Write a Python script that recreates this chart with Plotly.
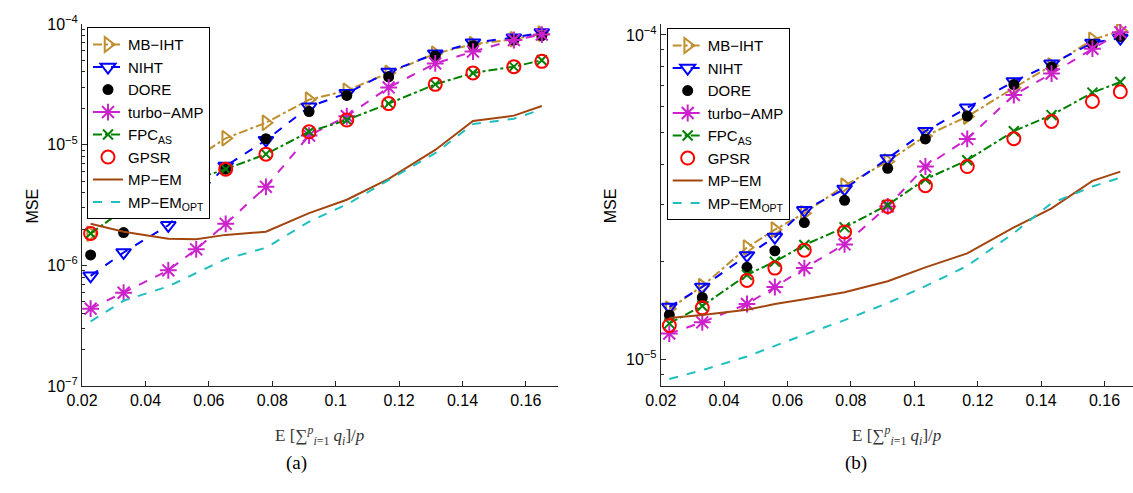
import plotly.graph_objects as go
import numpy as np

W, H = 1133, 493

x_vals = [0.0227, 0.0331, 0.0472, 0.0560, 0.0653, 0.0780, 0.0916, 0.1035, 0.1167, 0.1314, 0.1433, 0.1562, 0.165]

# Panel (a)
a_mbiht = [1.83e-6, 2.9e-6, 5.0e-6, 7.8e-6, 1.13e-5, 1.52e-5, 2.36e-5, 2.8e-5, 3.93e-5, 5.67e-5, 6.8e-5, 7.46e-5, 8.32e-5]
a_niht = [8.2e-7, 1.28e-6, 2.15e-6, 3.68e-6, 6.65e-6, 1.09e-5, 2.06e-5, 2.67e-5, 4.0e-5, 5.67e-5, 7.0e-5, 7.7e-5, 8.5e-5]
a_dore = [1.22e-6, 1.87e-6, 2.95e-6, 4.3e-6, 6.27e-6, 1.12e-5, 1.88e-5, 2.56e-5, 3.65e-5, 5.43e-5, 6.6e-5, 7.36e-5, 8.0e-5]
a_turbo = [4.38e-7, 5.94e-7, 9.1e-7, 1.36e-6, 2.21e-6, 4.48e-6, 1.19e-5, 1.72e-5, 2.98e-5, 4.71e-5, 5.9e-5, 7.36e-5, 8.17e-5]
a_fpc = [1.84e-6, 2.88e-6, 4.2e-6, 5.2e-6, 6.27e-6, 8.35e-6, 1.28e-5, 1.6e-5, 2.19e-5, 3.16e-5, 3.93e-5, 4.43e-5, 5.0e-5]
a_gpsr = [1.84e-6, 2.88e-6, 4.2e-6, 5.2e-6, 6.27e-6, 8.35e-6, 1.28e-5, 1.6e-5, 2.19e-5, 3.16e-5, 3.93e-5, 4.43e-5, 4.9e-5]
a_mpem = [2.21e-6, 1.9e-6, 1.66e-6, 1.65e-6, 1.79e-6, 1.9e-6, 2.71e-6, 3.5e-6, 5.2e-6, 9.04e-6, 1.57e-5, 1.74e-5, 2.09e-5]
a_mpopt = [3.43e-7, 5.1e-7, 6.7e-7, 8.6e-7, 1.13e-6, 1.4e-6, 2.3e-6, 3.2e-6, 5.06e-6, 8.5e-6, 1.48e-5, 1.64e-5, 1.96e-5]

# Panel (b)
b_mbiht = [1.43e-5, 1.68e-5, 2.21e-5, 2.51e-5, 2.82e-5, 3.43e-5, 4.07e-5, 4.88e-5, 5.6e-5, 6.87e-5, 8.05e-5, 9.67e-5, 1.03e-4]
b_niht = [1.45e-5, 1.67e-5, 2.09e-5, 2.38e-5, 2.88e-5, 3.35e-5, 4.16e-5, 5.05e-5, 5.96e-5, 7.19e-5, 8.15e-5, 9.45e-5, 9.78e-5]
b_dore = [1.37e-5, 1.55e-5, 1.92e-5, 2.16e-5, 2.64e-5, 3.09e-5, 3.88e-5, 4.78e-5, 5.62e-5, 7.03e-5, 7.96e-5, 9.34e-5, 9.9e-5]
b_turbo = [1.2e-5, 1.3e-5, 1.48e-5, 1.67e-5, 1.91e-5, 2.26e-5, 2.96e-5, 3.93e-5, 4.78e-5, 6.53e-5, 7.6e-5, 9.07e-5, 1.02e-4]
b_fpc = [1.29e-5, 1.46e-5, 1.82e-5, 2.0e-5, 2.25e-5, 2.55e-5, 2.99e-5, 3.59e-5, 4.11e-5, 5.05e-5, 5.66e-5, 6.64e-5, 7.16e-5]
b_gpsr = [1.27e-5, 1.44e-5, 1.75e-5, 1.91e-5, 2.17e-5, 2.47e-5, 2.96e-5, 3.43e-5, 3.93e-5, 4.79e-5, 5.41e-5, 6.24e-5, 6.68e-5]
b_mpem = [1.34e-5, 1.37e-5, 1.42e-5, 1.48e-5, 1.53e-5, 1.61e-5, 1.74e-5, 1.92e-5, 2.12e-5, 2.55e-5, 2.92e-5, 3.55e-5, 3.79e-5]
b_mpopt = [8.69e-6, 9.25e-6, 1.02e-5, 1.1e-5, 1.19e-5, 1.32e-5, 1.49e-5, 1.68e-5, 1.94e-5, 2.45e-5, 3.03e-5, 3.41e-5, 3.63e-5]

x_ticks = [0.02, 0.04, 0.06, 0.08, 0.10, 0.12, 0.14, 0.16]
x_ticktext = ["0.02", "0.04", "0.06", "0.08", "0.1", "0.12", "0.14", "0.16"]

names = ["MB\u2212IHT", "NIHT", "DORE", "turbo\u2212AMP", "FPC<sub>AS</sub>", "GPSR", "MP\u2212EM", "MP\u2212EM<sub>OPT</sub>"]

styles = [
    dict(mode="lines+markers", line=dict(color="#BF8F2F", width=2, dash="dashdot"),
         marker=dict(symbol="triangle-right-open", size=13, color="#BF8F2F", line=dict(width=2, color="#BF8F2F"))),
    dict(mode="lines+markers", line=dict(color="#0000FF", width=2, dash="dash"),
         marker=dict(symbol="triangle-down-open", size=13, color="#0000FF", line=dict(width=2, color="#0000FF"))),
    dict(mode="markers",
         marker=dict(symbol="circle", size=11, color="#000000", line=dict(width=0))),
    dict(mode="lines+markers", line=dict(color="#CC22CC", width=2, dash="dash"),
         marker=dict(symbol="asterisk-open", size=14, color="#CC22CC", line=dict(width=2, color="#CC22CC"))),
    dict(mode="lines+markers", line=dict(color="#008000", width=2, dash="dashdot"),
         marker=dict(symbol="x-thin-open", size=10, color="#008000", line=dict(width=2, color="#008000"))),
    dict(mode="markers",
         marker=dict(symbol="circle-open", size=13, color="#FF0000", line=dict(width=2, color="#FF0000"))),
    dict(mode="lines", line=dict(color="#A3450F", width=2, dash="solid")),
    dict(mode="lines", line=dict(color="#1FBFBF", width=2, dash="dash")),
]

series_a = [a_mbiht, a_niht, a_dore, a_turbo, a_fpc, a_gpsr, a_mpem, a_mpopt]
series_b = [b_mbiht, b_niht, b_dore, b_turbo, b_fpc, b_gpsr, b_mpem, b_mpopt]

fig = go.Figure()
for name, st, ya in zip(names, styles, series_a):
    fig.add_trace(go.Scatter(x=x_vals, y=ya, name=name, xaxis="x", yaxis="y", legend="legend", **st))
for name, st, yb in zip(names, styles, series_b):
    fig.add_trace(go.Scatter(x=x_vals, y=yb, name=name, xaxis="x2", yaxis="y2", legend="legend2", **st))

def px_x(p):
    return p / W

def px_y(p):
    return 1 - p / H

y_dom = [px_y(391), px_y(13.5)]

minor_a = [m * 10.0 ** e for e in (-7, -6, -5) for m in range(2, 10)]
minor_b = [m * 10.0 ** -5 for m in range(2, 10)] + [9 * 10.0 ** -6]

font_ax = dict(family="Liberation Sans, Arial, sans-serif", size=16, color="#000000")
font_leg = dict(family="Liberation Sans, Arial, sans-serif", size=15, color="#000000")

common_x = dict(showline=True, linecolor="#262626", linewidth=1, ticks="inside", ticklen=5,
                tickcolor="#262626", tickvals=x_ticks, ticktext=x_ticktext, showgrid=False,
                zeroline=False, tickfont=font_ax, mirror=False)
common_y = dict(type="log", showline=True, linecolor="#262626", linewidth=1, ticks="inside", ticklen=5,
                tickcolor="#262626", showgrid=False, zeroline=False, tickfont=font_ax, mirror=False)

fig.update_layout(
    width=W, height=H,
    margin=dict(l=0, r=0, t=0, b=0),
    paper_bgcolor="white", plot_bgcolor="white",
    showlegend=True,
    xaxis=dict(domain=[px_x(67), px_x(549.4)], range=[0.02, 0.17], anchor="y", **common_x),
    yaxis=dict(domain=y_dom, range=[-7, -4], anchor="x",
               tickvals=[1e-7, 1e-6, 1e-5, 1e-4],
               ticktext=["10<sup>\u22127</sup>", "10<sup>\u22126</sup>", "10<sup>\u22125</sup>", "10<sup>\u22124</sup>"],
               minor=dict(tickvals=minor_a, ticks="inside", ticklen=3, tickcolor="#262626"),
               **common_y),
    xaxis2=dict(domain=[px_x(654), 1.0], range=[0.02, 0.169], anchor="y2", **common_x),
    yaxis2=dict(domain=y_dom, range=[-5.083, -3.966], anchor="x2",
                tickvals=[1e-5, 1e-4],
                ticktext=["10<sup>\u22125</sup>", "10<sup>\u22124</sup>"],
                minor=dict(tickvals=minor_b, ticks="inside", ticklen=3, tickcolor="#262626"),
                **common_y),
    legend=dict(x=px_x(72), y=px_y(17), xanchor="left", yanchor="top",
                bgcolor="white", bordercolor="#000000", borderwidth=1,
                font=font_leg, tracegroupgap=0, itemwidth=30),
    legend2=dict(x=px_x(660), y=px_y(18), xanchor="left", yanchor="top",
                 bgcolor="white", bordercolor="#000000", borderwidth=1,
                 font=font_leg, tracegroupgap=0, itemwidth=30),
)

serif = dict(family="Liberation Serif, DejaVu Serif, serif", size=17, color="#333333")
xlabel = "E [\u2211<sup><i>p</i></sup><sub><i>i</i>=1</sub> <i>q<sub>i</sub></i>]/<i>p</i>"
anns = [
    dict(text="MSE", x=px_x(17), y=px_y(203), textangle=-90, font=font_ax),
    dict(text="MSE", x=px_x(603), y=px_y(203), textangle=-90, font=font_ax),
    dict(text=xlabel, x=px_x(308), y=px_y(442), font=serif),
    dict(text=xlabel, x=px_x(893), y=px_y(442), font=serif),
    dict(text="(a)", x=px_x(285), y=px_y(471), font=dict(family="Liberation Serif, serif", size=19, color="#000000")),
    dict(text="(b)", x=px_x(852), y=px_y(471), font=dict(family="Liberation Serif, serif", size=19, color="#000000")),
]
for a in anns:
    fig.add_annotation(xref="paper", yref="paper", showarrow=False, xanchor="center", yanchor="middle", **a)

fig.write_html("out.html")
